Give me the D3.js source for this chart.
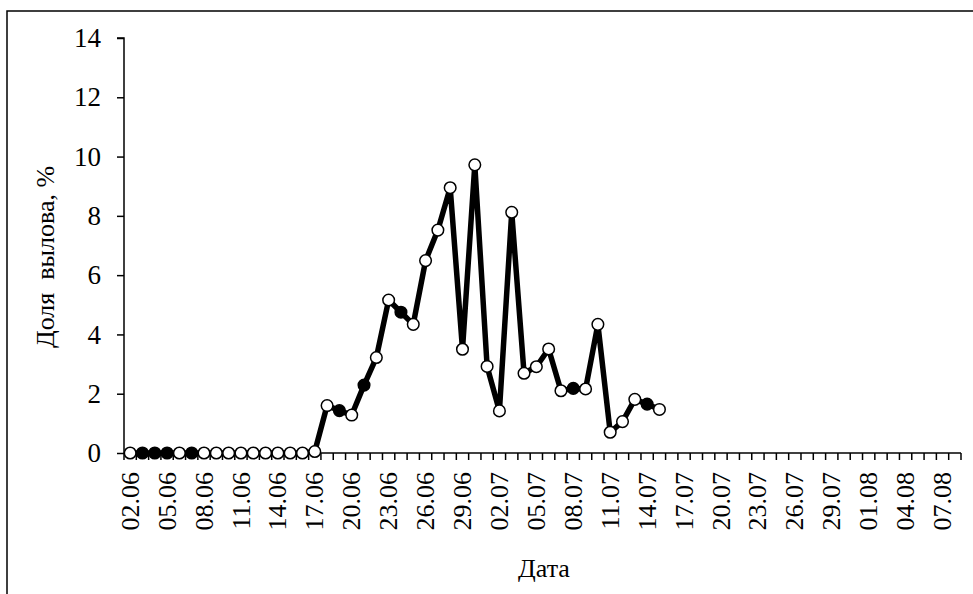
<!DOCTYPE html>
<meta charset="utf-8">
<style>
body { margin: 0; background: #fff; }
svg text { font-family: "Liberation Serif", "Times New Roman", serif; fill: #000; }
.domain { stroke: #000; stroke-width: 1.5px; }
</style>
<body>
<script src="https://d3js.org/d3.v7.min.js"></script>
<script>
// category dates (x axis)
var dates = [
  "02.06","03.06","04.06","05.06","06.06","07.06","08.06","09.06","10.06","11.06",
  "12.06","13.06","14.06","15.06","16.06","17.06","18.06","19.06","20.06","21.06",
  "22.06","23.06","24.06","25.06","26.06","27.06","28.06","29.06","30.06",
  "01.07","02.07","03.07","04.07","05.07","06.07","07.07","08.07","09.07","10.07",
  "11.07","12.07","13.07","14.07","15.07","16.07","17.07","18.07","19.07","20.07",
  "21.07","22.07","23.07","24.07","25.07","26.07","27.07","28.07","29.07","30.07","31.07",
  "01.08","02.08","03.08","04.08","05.08","06.08","07.08","08.08"
];
// share of catch, % (from 02.06 to 15.07)
var share = [
  0, 0, 0, 0, 0, 0, 0, 0, 0, 0, 0, 0, 0, 0, 0, 0.05,
  1.6, 1.43, 1.28, 2.29, 3.22, 5.16, 4.75, 4.34, 6.49, 7.52, 8.95, 3.5, 9.72,
  2.92, 1.42, 8.12, 2.69, 2.91, 3.51, 2.1, 2.18, 2.16, 4.34, 0.7, 1.06, 1.81, 1.65, 1.47
];
// days drawn with a filled marker
var filledDays = ["03.06","04.06","05.06","07.06","19.06","21.06","24.06","08.07","14.07"];
var yTicks = [0, 2, 4, 6, 8, 10, 12, 14];

var width = 973, height = 594;
var serif = "'Liberation Serif', 'Times New Roman', serif";
var svg = d3.select("body").append("svg")
    .attr("width", width)
    .attr("height", height);

// outer frame (cut off on right and bottom)
svg.append("rect")
    .attr("x", 7).attr("y", 11)
    .attr("width", 980).attr("height", 600)
    .attr("fill", "none")
    .attr("stroke", "#000")
    .attr("stroke-width", 1.5);

var x = d3.scaleBand().domain(dates).range([124, 961]).padding(0);
var y = d3.scaleLinear().domain([0, 14]).range([453, 38]);

// y axis
var yAxis = svg.append("g")
    .attr("transform", "translate(124,0)")
    .call(d3.axisLeft(y).tickValues(yTicks).tickSize(7).tickPadding(16))
    .attr("font-family", serif)
    .attr("font-size", 27);
yAxis.selectAll("line").attr("stroke", "#000").attr("stroke-width", 1.5);
yAxis.selectAll("text").style("font-family", serif).style("font-size", "27px");
yAxis.select(".domain").attr("d", "M-7,38H0V453");

// x axis: labels every third day
var labelDays = dates.filter(function(d, i) { return i % 3 == 0; });
var xAxis = svg.append("g")
    .attr("transform", "translate(0,453)")
    .call(d3.axisBottom(x).tickValues(labelDays).tickSize(0).tickPadding(0))
    .attr("font-family", serif)
    .attr("font-size", 26);
xAxis.select(".domain").attr("d", "M124,0H961");
xAxis.selectAll("text")
    .style("font-family", serif)
    .style("font-size", "26px")
    .attr("text-anchor", "end")
    .attr("transform", "rotate(-90)")
    .attr("x", -19)
    .attr("y", 0)
    .attr("dy", "0.33em");

// boundary tick marks between categories
var bounds = dates.map(function(d) { return x(d); }).concat([x.range()[1]]);
svg.append("g").selectAll("line")
  .data(bounds)
  .enter().append("line")
    .attr("x1", function(d) { return d; })
    .attr("x2", function(d) { return d; })
    .attr("y1", 453)
    .attr("y2", 460)
    .attr("stroke", "#000")
    .attr("stroke-width", 1.5);

// titles
svg.append("text")
    .attr("x", 544).attr("y", 577)
    .attr("text-anchor", "middle")
    .style("font-family", serif)
    .style("font-size", "26px")
    .text("Дата");

svg.append("text")
    .attr("transform", "translate(54,257) rotate(-90)")
    .attr("text-anchor", "middle")
    .style("font-family", serif)
    .style("font-size", "26px")
    .style("white-space", "pre")
    .text("Доля  вылова, %");

// series
var pts = share.map(function(v, i) { return { day: dates[i], v: v }; });
var cx = function(d) { return x(d.day) + x.bandwidth() / 2; };

svg.append("path")
    .datum(pts)
    .attr("fill", "none")
    .attr("stroke", "#000")
    .attr("stroke-width", 5.5)
    .attr("stroke-linejoin", "round")
    .attr("d", d3.line().x(cx).y(function(d) { return y(d.v); }));

svg.append("g").selectAll("circle")
  .data(pts)
  .enter().append("circle")
    .attr("cx", cx)
    .attr("cy", function(d) { return y(d.v); })
    .attr("r", 5.8)
    .attr("fill", function(d) { return filledDays.indexOf(d.day) >= 0 ? "#000" : "#fff"; })
    .attr("stroke", "#000")
    .attr("stroke-width", 1.5);
</script>
</body>
